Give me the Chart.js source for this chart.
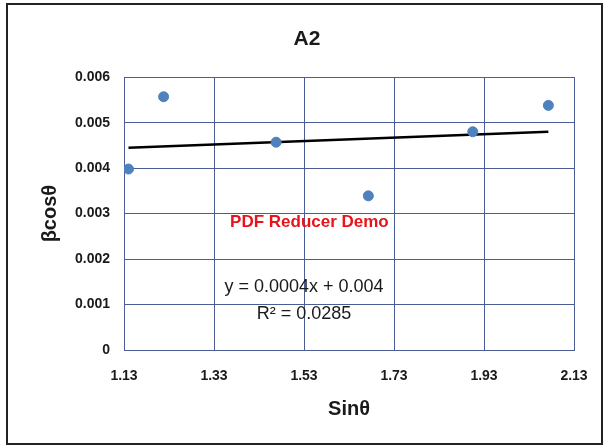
<!DOCTYPE html>
<html>
<head>
<meta charset="utf-8">
<script src="https://cdn.jsdelivr.net/npm/chart.js@4.4.1/dist/chart.umd.min.js"></script>
<style>
  html, body { margin: 0; padding: 0; background: #fff; }
  #wrap { width: 608px; height: 448px; }
</style>
</head>
<body>
<div id="wrap"><canvas id="chart" width="608" height="448"></canvas></div>
<script>
// dados
const sinTheta = [1.140, 1.218, 1.468, 1.673, 1.905, 2.073];
const betaCos = [0.00398, 0.00557, 0.00457, 0.00339, 0.00480, 0.00538];
const xTicks = [1.13, 1.33, 1.53, 1.73, 1.93, 2.13];
const xTickLabels = ['1.13', '1.33', '1.53', '1.73', '1.93', '2.13'];
const yTicks = [0, 0.001, 0.002, 0.003, 0.004, 0.005, 0.006];
const yTickLabels = ['0', '0.001', '0.002', '0.003', '0.004', '0.005', '0.006'];
const equationText = 'y = 0.0004x + 0.004';
const r2Text = 'R² = 0.0285';
const watermarkText = 'PDF Reducer Demo';

// linha de tendência (mínimos quadrados)
const n = sinTheta.length;
const mx = sinTheta.reduce((a, b) => a + b, 0) / n;
const my = betaCos.reduce((a, b) => a + b, 0) / n;
let sxy = 0, sxx = 0;
for (let i = 0; i < n; i++) {
    sxy += (sinTheta[i] - mx) * (betaCos[i] - my);
    sxx += (sinTheta[i] - mx) * (sinTheta[i] - mx);
}
const slope = sxy / sxx;
const intercept = my - slope * mx;
const xMin = Math.min(...sinTheta);
const xMax = Math.max(...sinTheta);
const trend = [
    {x: xMin, y: slope * xMin + intercept},
    {x: xMax, y: slope * xMax + intercept}
];

const gridColor = '#4a5d94';
const textColor = '#1a1a1a';

const textPlugin = {
    id: 'anotacoes',
    beforeDraw(chart) {
        const ctx = chart.ctx;
        ctx.save();
        ctx.fillStyle = '#fff';
        ctx.fillRect(0, 0, chart.width, chart.height);
        ctx.restore();
    },
    afterDatasetsDraw(chart) {
        const ctx = chart.ctx;
        const xs = chart.scales.x, ys = chart.scales.y;
        ctx.save();
        ctx.textAlign = 'center';
        ctx.textBaseline = 'middle';
        ctx.fillStyle = '#e8131b';
        ctx.font = 'bold 17px "Liberation Sans", Arial, sans-serif';
        ctx.fillText(watermarkText, xs.getPixelForValue(1.542), ys.getPixelForValue(0.0028));
        ctx.fillStyle = textColor;
        ctx.font = '18px "Liberation Sans", Arial, sans-serif';
        ctx.fillText(equationText, xs.getPixelForValue(1.53), ys.getPixelForValue(0.00139));
        ctx.fillText(r2Text, xs.getPixelForValue(1.53), ys.getPixelForValue(0.00079));
        ctx.restore();
    },
    afterDraw(chart) {
        const ctx = chart.ctx;
        ctx.save();
        ctx.strokeStyle = '#222';
        ctx.lineWidth = 2;
        ctx.strokeRect(7, 4, 595, 440);
        ctx.restore();
    }
};

new Chart(document.getElementById('chart'), {
    type: 'scatter',
    data: {
        datasets: [
            {
                label: 'βcosθ',
                data: sinTheta.map((x, i) => ({x: x, y: betaCos[i]})),
                backgroundColor: '#4f81bd',
                borderColor: '#4f81bd',
                pointRadius: 5,
                pointHoverRadius: 5
            },
            {
                type: 'line',
                label: 'Linear',
                data: trend,
                borderColor: '#000',
                borderWidth: 2.5,
                pointRadius: 0,
                fill: false
            }
        ]
    },
    options: {
        responsive: false,
        animation: false,
        devicePixelRatio: 1,
        layout: {padding: {left: 40, right: 34, top: 10, bottom: 0}},
        plugins: {
            legend: {display: false},
            tooltip: {enabled: false},
            title: {
                display: true,
                text: 'A2',
                color: textColor,
                font: {family: '"Liberation Sans", Arial, sans-serif', size: 21, weight: 'bold'},
                padding: {top: 17, bottom: 25}
            }
        },
        scales: {
            x: {
                type: 'linear',
                min: 1.13,
                max: 2.13,
                afterBuildTicks: scale => { scale.ticks = xTicks.map(v => ({value: v})); },
                afterFit: scale => { scale.height = 98; },
                grid: {color: gridColor, drawTicks: false},
                border: {color: gridColor},
                ticks: {
                    color: textColor,
                    padding: 18,
                    maxRotation: 0,
                    font: {family: '"Liberation Sans", Arial, sans-serif', size: 14, weight: 'bold'},
                    callback: (v, i) => xTickLabels[i]
                },
                title: {
                    display: true,
                    text: 'Sinθ',
                    color: textColor,
                    font: {family: '"Liberation Sans", Arial, sans-serif', size: 20, weight: 'bold'},
                    padding: {top: 0, bottom: 27}
                }
            },
            y: {
                type: 'linear',
                min: 0,
                max: 0.006,
                afterBuildTicks: scale => { scale.ticks = yTicks.map(v => ({value: v})); },
                afterFit: scale => { scale.width = 84; },
                grid: {color: gridColor, drawTicks: false},
                border: {color: gridColor},
                ticks: {
                    color: textColor,
                    padding: 14,
                    font: {family: '"Liberation Sans", Arial, sans-serif', size: 14, weight: 'bold'},
                    callback: (v, i) => yTickLabels[i]
                },
                title: {
                    display: true,
                    text: 'βcosθ',
                    color: textColor,
                    font: {family: '"Liberation Sans", Arial, sans-serif', size: 20, weight: 'bold', lineHeight: 1},
                    padding: {top: 0, bottom: 0}
                }
            }
        }
    },
    plugins: [textPlugin]
});
</script>
</body>
</html>
